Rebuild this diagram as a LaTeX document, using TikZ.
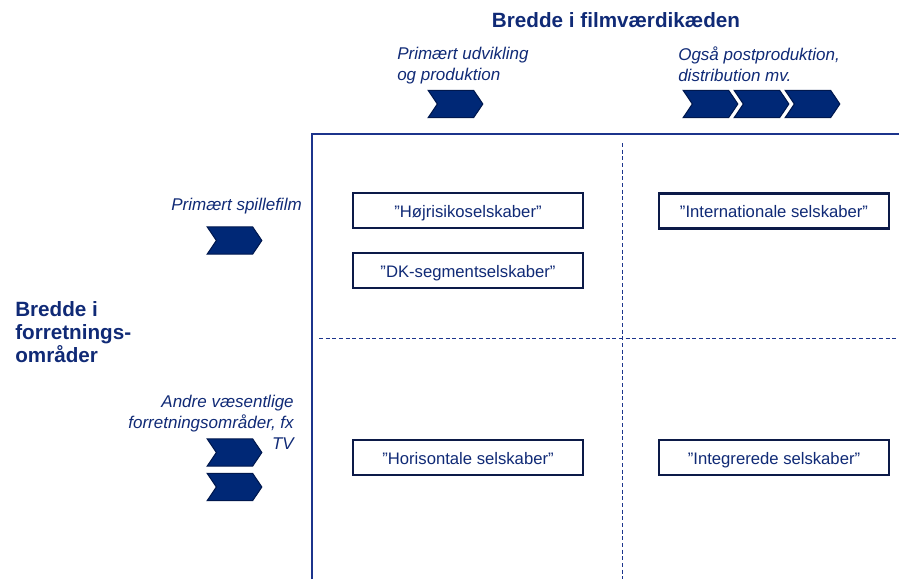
\documentclass[tikz,border=0pt]{standalone}
\usepackage{fontspec}
\setmainfont{Liberation Sans}
\usetikzlibrary{positioning, shapes.symbols}

\definecolor{navy}{RGB}{16,42,118}
\definecolor{chevfill}{RGB}{0,40,118}
\definecolor{chevline}{RGB}{0,24,78}
\definecolor{boxline}{RGB}{12,26,72}
\definecolor{axisblue}{RGB}{28,52,140}

\begin{document}
\begin{tikzpicture}[
        x=0.75pt, y=-0.75pt,
        box/.style={rectangle, draw=boxline, line width=2.2pt, fill=white, minimum width=172.5pt, minimum height=26.25pt, inner sep=0pt, text height=10.5pt, text depth=0.5pt, text=navy, font=\fontsize{12.5pt}{14pt}\selectfont},
        chev/.style={signal, signal from=west, signal to=east, signal pointer angle=112, fill=chevfill, draw=chevline, line width=0.8pt, minimum width=41pt, minimum height=20.5pt, inner sep=0pt},
        head/.style={text=navy, font=\fontsize{15.5pt}{17.25pt}\selectfont\bfseries, inner sep=0pt},
        note/.style={text=navy, font=\fontsize{12.75pt}{15.75pt}\selectfont\itshape, inner sep=0pt},
        axis/.style={draw=axisblue, line width=1.5pt},
        grid/.style={draw=axisblue, line width=0.75pt, dash pattern=on 3pt off 2pt}
    ]
        \useasboundingbox (0,0) rectangle (899,579);

        % axes and quadrant lines
        \draw[axis] (312,579) -- (312,134) -- (899,134);
        \draw[grid] (622,143) -- (622,579);
        \draw[grid] (319,338) -- (899,338);

        % headings
        \node[head] (vaerdi) at (616,20) {Bredde i filmværdikæden};
        \node[head, align=left, anchor=north west] (forr) at (15,301) {Bredde i\\forretnings-\\områder};

        % top chevrons
        \node[note, align=left, anchor=north west] (prim) at (397,47) {Primært udvikling\\og produktion};
        \node[note, align=left, anchor=north west] (ogsaa) at (678,47) {Også postproduktion,\\distribution mv.};
        \node[chev] (c1) at (455.5,104) {};
        \foreach \x/\n in {710.5/1, 761.5/2, 812.5/3}
            \node[chev] (c2\n) at (\x,104) {};

        % left chevrons
        \node[note, anchor=north east] (spil) at (302,198) {Primært spillefilm};
        \node[note, align=right, anchor=north east] (andre) at (294,395) {Andre væsentlige\\forretningsområder, fx\\TV};
        \node[chev] (r1) at (234.5,240.5) {};
        \node[chev] (r21) at (234.5,452.5) {};
        \node[chev] (r22) at (234.5,487) {};

        % company types
        \node[box] (hoej) at (468,210.5) {”Højrisikoselskaber”};
        \node[box] (dk) at (468,270.5) {”DK-segmentselskaber”};
        \node[box] (intl) at (774,211) {”Internationale selskaber”};
        \node[box] (hori) at (468,457.5) {”Horisontale selskaber”};
        \node[box] (integ) at (774,457.5) {”Integrerede selskaber”};
    \end{tikzpicture}
\end{document}
